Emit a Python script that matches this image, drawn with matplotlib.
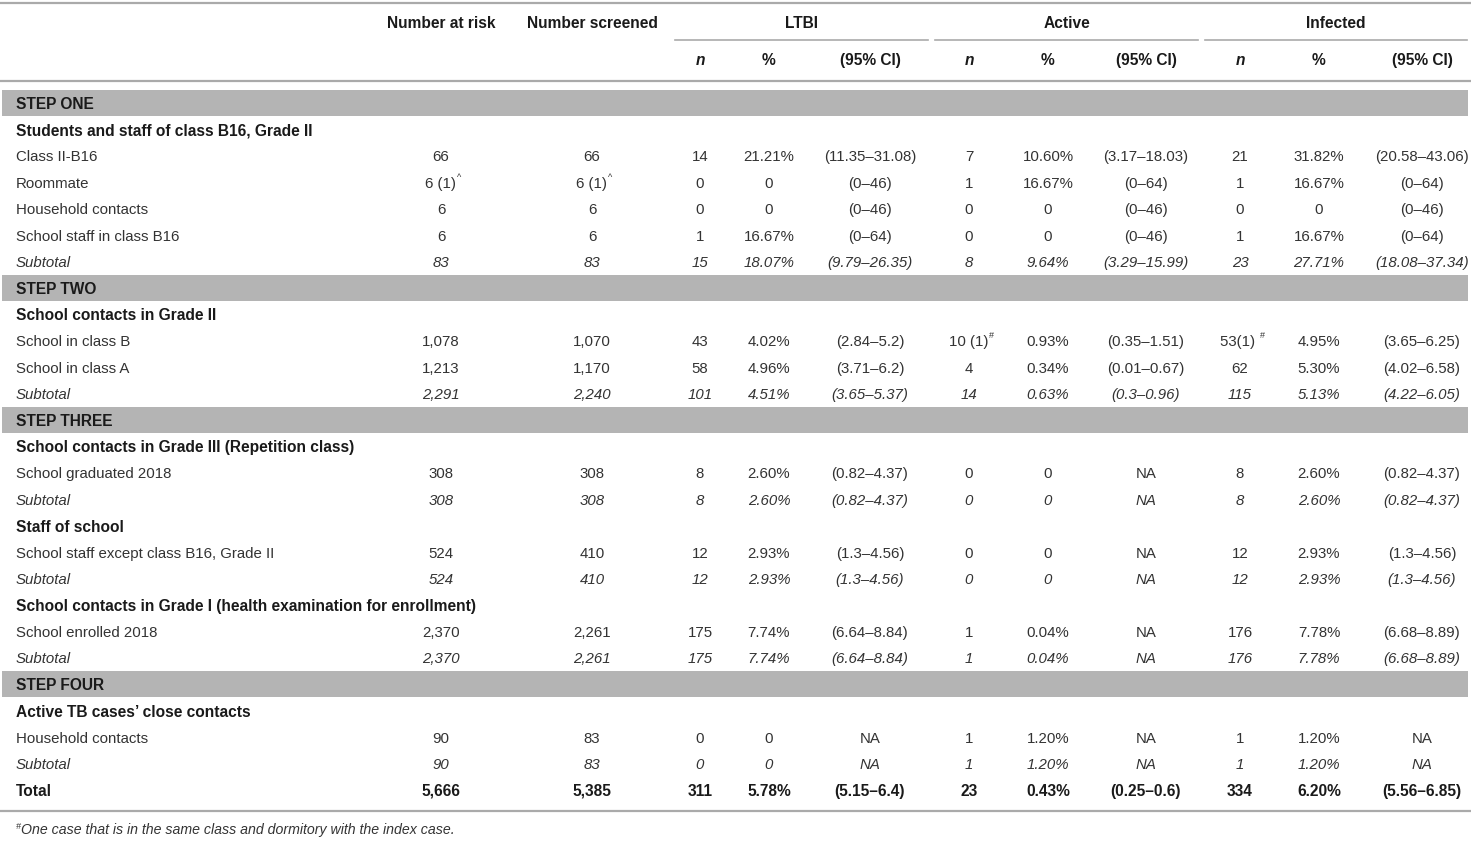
import matplotlib.pyplot as plt
from matplotlib.patches import Rectangle

# rows of the table, top to bottom
row_labels = ['STEP ONE', 'Students and staff of class B16, Grade II', 'Class II-B16', 'Roommate',
              'Household contacts', 'School staff in class B16', 'Subtotal',
              'STEP TWO', 'School contacts in Grade II', 'School in class B', 'School in class A', 'Subtotal',
              'STEP THREE', 'School contacts in Grade III (Repetition class)', 'School graduated 2018', 'Subtotal',
              'Staff of school', 'School staff except class B16, Grade II', 'Subtotal',
              'School contacts in Grade I (health examination for enrollment)', 'School enrolled 2018', 'Subtotal',
              'STEP FOUR', 'Active TB cases\u2019 close contacts', 'Household contacts', 'Subtotal', 'Total']
row_kinds = ['step', 'group', 'row', 'row', 'row', 'row', 'sub',
             'step', 'group', 'row', 'row', 'sub',
             'step', 'group', 'row', 'sub',
             'group', 'row', 'sub',
             'group', 'row', 'sub',
             'step', 'group', 'row', 'sub', 'total']

# values of the data rows only (row, sub, total), "|" marks a superscript
number_at_risk = ['66', '6 (1)|^', '6', '6', '83', '1,078', '1,213', '2,291', '308', '308',
                  '524', '524', '2,370', '2,370', '90', '90', '5,666']
number_screened = ['66', '6 (1)|^', '6', '6', '83', '1,070', '1,170', '2,240', '308', '308',
                   '410', '410', '2,261', '2,261', '83', '83', '5,385']
ltbi_n = ['14', '0', '0', '1', '15', '43', '58', '101', '8', '8', '12', '12', '175', '175', '0', '0', '311']
ltbi_pct = ['21.21%', '0', '0', '16.67%', '18.07%', '4.02%', '4.96%', '4.51%', '2.60%', '2.60%',
            '2.93%', '2.93%', '7.74%', '7.74%', '0', '0', '5.78%']
ltbi_ci = ['(11.35\u201331.08)', '(0\u201346)', '(0\u201346)', '(0\u201364)', '(9.79\u201326.35)',
           '(2.84\u20135.2)', '(3.71\u20136.2)', '(3.65\u20135.37)', '(0.82\u20134.37)', '(0.82\u20134.37)',
           '(1.3\u20134.56)', '(1.3\u20134.56)', '(6.64\u20138.84)', '(6.64\u20138.84)', 'NA', 'NA',
           '(5.15\u20136.4)']
active_n = ['7', '1', '0', '0', '8', '10 (1)|#', '4', '14', '0', '0', '0', '0', '1', '1', '1', '1', '23']
active_pct = ['10.60%', '16.67%', '0', '0', '9.64%', '0.93%', '0.34%', '0.63%', '0', '0',
              '0', '0', '0.04%', '0.04%', '1.20%', '1.20%', '0.43%']
active_ci = ['(3.17\u201318.03)', '(0\u201364)', '(0\u201346)', '(0\u201346)', '(3.29\u201315.99)',
             '(0.35\u20131.51)', '(0.01\u20130.67)', '(0.3\u20130.96)', 'NA', 'NA', 'NA', 'NA',
             'NA', 'NA', 'NA', 'NA', '(0.25\u20130.6)']
infected_n = ['21', '1', '0', '1', '23', '53(1) |#', '62', '115', '8', '8', '12', '12', '176', '176',
              '1', '1', '334']
infected_pct = ['31.82%', '16.67%', '0', '16.67%', '27.71%', '4.95%', '5.30%', '5.13%', '2.60%', '2.60%',
                '2.93%', '2.93%', '7.78%', '7.78%', '1.20%', '1.20%', '6.20%']
infected_ci = ['(20.58\u201343.06)', '(0\u201364)', '(0\u201346)', '(0\u201364)', '(18.08\u201337.34)',
               '(3.65\u20136.25)', '(4.02\u20136.58)', '(4.22\u20136.05)', '(0.82\u20134.37)', '(0.82\u20134.37)',
               '(1.3\u20134.56)', '(1.3\u20134.56)', '(6.68\u20138.89)', '(6.68\u20138.89)', 'NA', 'NA',
               '(5.56\u20136.85)']

columns = [number_at_risk, number_screened, ltbi_n, ltbi_pct, ltbi_ci,
           active_n, active_pct, active_ci, infected_n, infected_pct, infected_ci]
col_x = [441, 592, 700, 769, 870, 969, 1048, 1146, 1240, 1319, 1422]
sub_headers = ['n', '%', '(95% CI)'] * 3
group_headers = ['LTBI', 'Active', 'Infected']
group_spans = [(675, 928), (935, 1198), (1205, 1467)]
footnote = 'One case that is in the same class and dormitory with the index case.'

W, H = 1471, 841
plt.rcParams['font.family'] = ['Liberation Sans', 'DejaVu Sans']
fig = plt.figure(figsize=(W / 100, H / 100), dpi=100)
ax = fig.add_axes([0, 0, 1, 1])
ax.set_xlim(0, W)
ax.set_ylim(H, 0)
ax.axis('off')

FS = 10.8
FSB = 11.2
reg_c = '#333333'
bold_c = '#1a1a1a'
line_c = '#aaaaaa'


def put(x, y, s, ha='center', weight='normal', style='normal', color=reg_c):
    sup = None
    if '|' in s:
        s, sup = s.split('|')
    size = FSB if weight == 'bold' else FS
    t = ax.text(x, y + 1.5, s, ha=ha, va='center', fontsize=size, fontweight=weight,
                fontstyle=style, color=color)
    if sup:
        ax.annotate(sup, xy=(1, 0.95), xycoords=t, ha='left', va='center',
                    fontsize=FS * 0.6, color=color, fontstyle=style)
    return t


# header
ax.plot([0, W], [3, 3], color=line_c, lw=1.6)
put(441, 22, 'Number at risk', weight='bold', color=bold_c)
put(592, 22, 'Number screened', weight='bold', color=bold_c)
for name, (x0, x1) in zip(group_headers, group_spans):
    put((x0 + x1) / 2, 22, name, weight='bold', color=bold_c)
    ax.plot([x0, x1], [40, 40], color=line_c, lw=1.2)
for x, s in zip(col_x[2:], sub_headers):
    put(x, 59, s, weight='bold', color=bold_c, style='italic' if s == 'n' else 'normal')
ax.plot([0, W], [81, 81], color=line_c, lw=1.6)

# body
y0, dy = 103, 26.42
k = 0
for i, (label, kind) in enumerate(zip(row_labels, row_kinds)):
    y = y0 + i * dy
    if kind == 'step':
        ax.add_patch(Rectangle((2, y - 13), W - 5, 26, facecolor='#b4b4b4', edgecolor='none'))
        put(16, y, label, ha='left', weight='bold', color=bold_c)
    elif kind == 'group':
        put(16, y, label, ha='left', weight='bold', color=bold_c)
    else:
        weight = 'bold' if kind == 'total' else 'normal'
        style = 'italic' if kind == 'sub' else 'normal'
        color = bold_c if kind == 'total' else reg_c
        put(16, y, label, ha='left', weight=weight, style=style, color=color)
        for x, col in zip(col_x, columns):
            put(x, y, col[k], weight=weight, style=style, color=color)
        k += 1

ax.plot([0, W], [811, 811], color=line_c, lw=1.6)
ft = ax.text(16, 831, '#', fontsize=FS * 0.6, color=reg_c, style='italic', va='bottom', ha='left')
ax.annotate(footnote, xy=(1, 0.1), xycoords=ft, ha='left', va='center',
            fontsize=FS * 0.945, color=reg_c, style='italic')

fig.savefig('out.png', dpi=100)
